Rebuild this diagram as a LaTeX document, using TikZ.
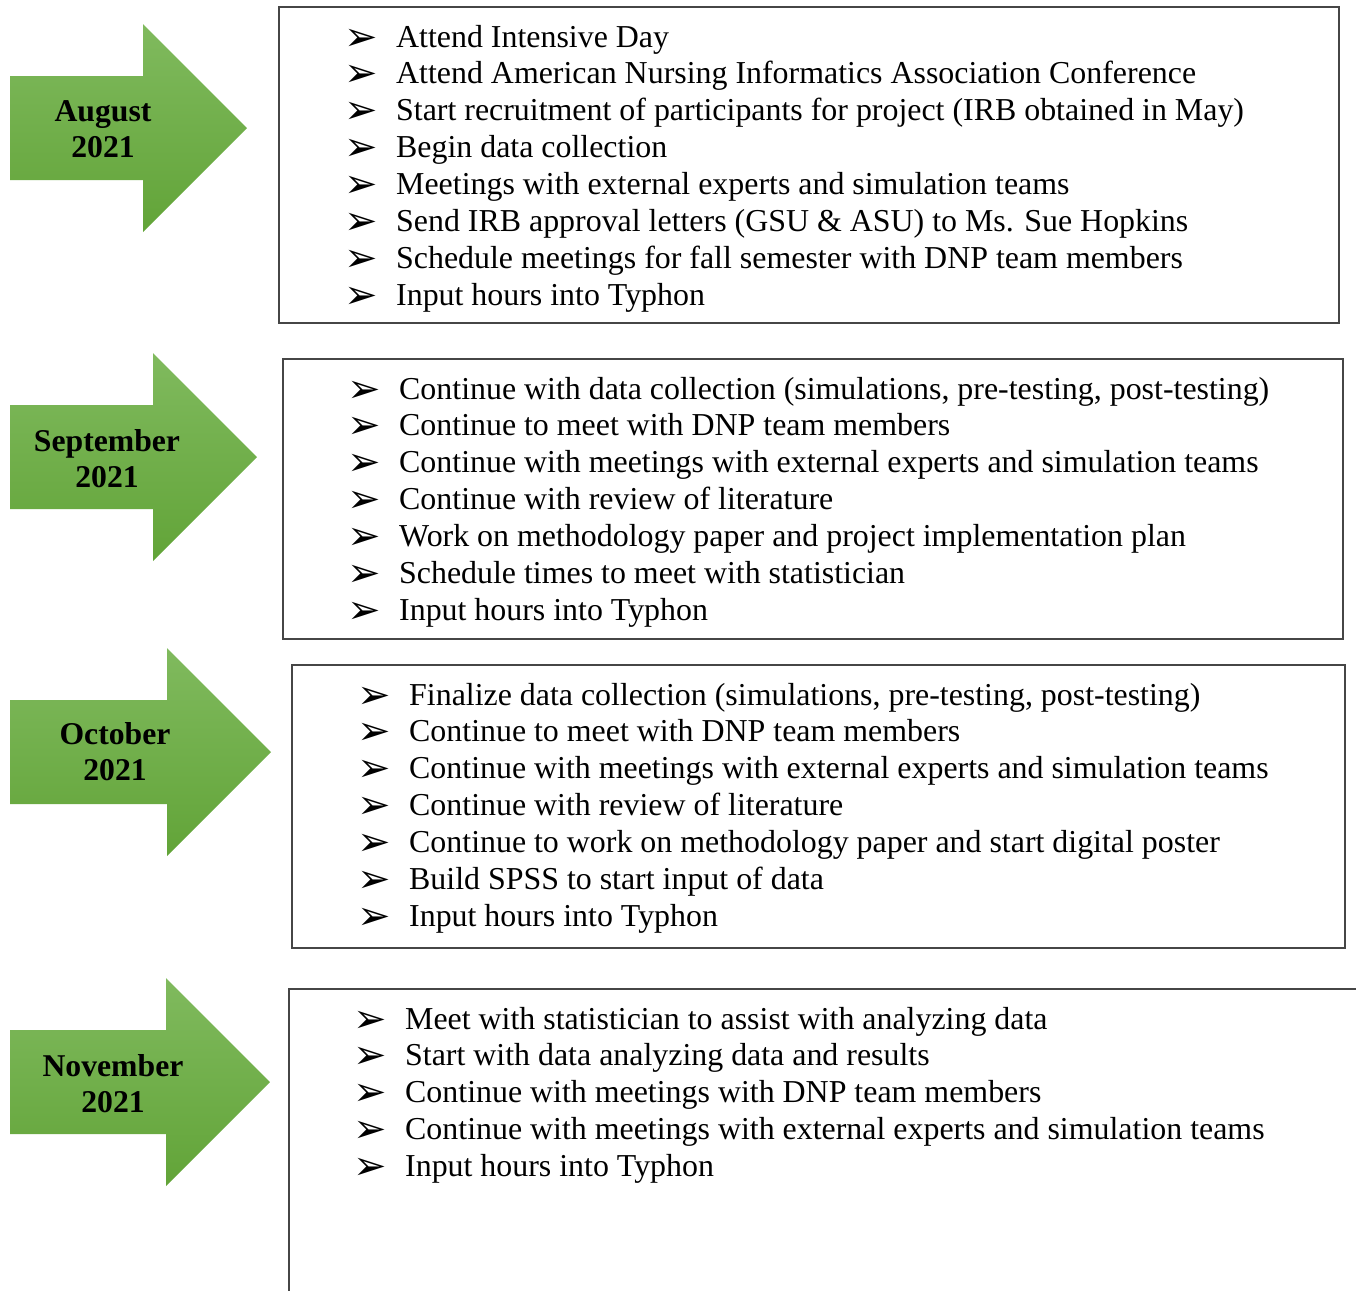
\documentclass[tikz,border=0pt]{standalone}
\usepackage{fontspec}
\setmainfont{Liberation Serif}
\newfontfamily\dejavu{DejaVu Sans}
\usetikzlibrary{positioning}

\definecolor{arrowtop}{RGB}{128,186,94}
\definecolor{arrowbot}{RGB}{98,164,56}
\definecolor{boxline}{RGB}{70,70,70}

\newcommand\bul{\makebox[49pt][l]{\hspace{-3pt}\raisebox{-3pt}{\dejavu\fontsize{40}{40}\selectfont ➢}}}

\tikzset{
  month/.style={align=center,font=\fontsize{31.7}{36}\selectfont\bfseries},
  item/.style={anchor=base west,inner sep=0pt,font=\fontsize{31.9}{36.9}\selectfont},
  plan/.style={draw=boxline,line width=1.3pt}
}

\begin{document}
\begin{tikzpicture}[x=1pt,y=-1pt]
      \useasboundingbox (0,0) rectangle (1356,1291);
      % arrows
      \foreach\hb/\c in {143/128,153/457,167/752,166/1082} {
	\shade[top color=arrowtop,bottom color=arrowbot]
	  (10,\c-52) -- (\hb,\c-52) -- (\hb,\c-104) -- (\hb+104,\c)
	  -- (\hb,\c+104) -- (\hb,\c+52) -- (10,\c+52) -- cycle;
      }
      \node[month] (aug) at (103,129) {August\\2021};
      \node[month] (sep) at (107,459) {September\\2021};
      \node[month] (oct) at (115,752) {October\\2021};
      \node[month] (nov) at (113,1084) {November\\2021};
      % boxes
      \draw[plan] (279,7) rectangle (1339,323);
      \draw[plan] (283,359) rectangle (1343,639);
      \draw[plan] (292,665) rectangle (1345,948);
      \draw[plan] (1356,989) -- (289,989) -- (289,1291);
      % August
      \foreach\t [count=\i] in {Attend Intensive Day,
	Attend American Nursing Informatics Association Conference,
	Start recruitment of participants for project (IRB obtained in May),
	Begin data collection,
	Meetings with external experts and simulation teams,
	Send IRB approval letters (GSU \& ASU) to Ms. Sue Hopkins,
	Schedule meetings for fall semester with DNP team members,
	Input hours into Typhon} {
	\node[item] (a\i) at (347,47+36.9*\i-36.9) {\bul\t};
      }
      % September
      \foreach\t [count=\i] in {{Continue with data collection (simulations, pre-testing, post-testing)},
	Continue to meet with DNP team members,
	Continue with meetings with external experts and simulation teams,
	Continue with review of literature,
	Work on methodology paper and project implementation plan,
	Schedule times to meet with statistician,
	Input hours into Typhon} {
	\node[item] (s\i) at (350,399+36.9*\i-36.9) {\bul\t};
      }
      % October
      \foreach\t [count=\i] in {{Finalize data collection (simulations, pre-testing, post-testing)},
	Continue to meet with DNP team members,
	Continue with meetings with external experts and simulation teams,
	Continue with review of literature,
	Continue to work on methodology paper and start digital poster,
	Build SPSS to start input of data,
	Input hours into Typhon} {
	\node[item] (o\i) at (360,705+36.9*\i-36.9) {\bul\t};
      }
      % November
      \foreach\t [count=\i] in {Meet with statistician to assist with analyzing data,
	Start with data analyzing data and results,
	Continue with meetings with DNP team members,
	Continue with meetings with external experts and simulation teams,
	Input hours into Typhon} {
	\node[item] (n\i) at (356,1029+36.9*\i-36.9) {\bul\t};
      }
\end{tikzpicture}
\end{document}
